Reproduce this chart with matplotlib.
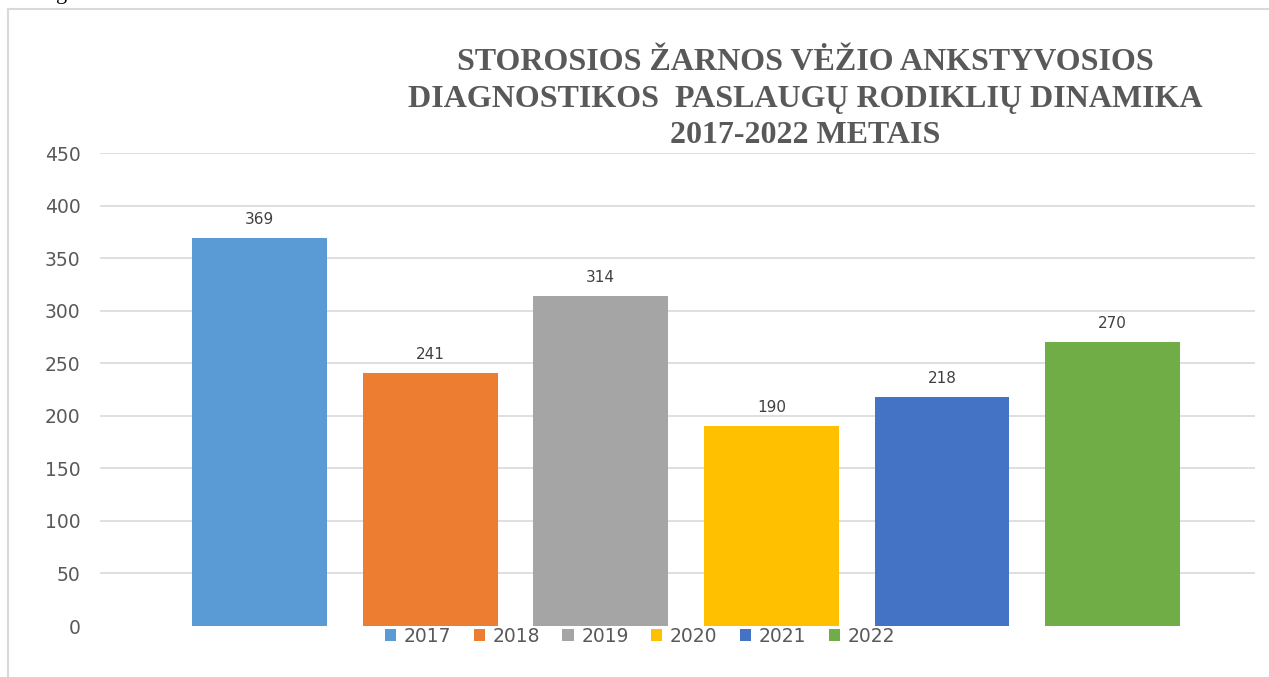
import matplotlib.pyplot as plt
from matplotlib.lines import Line2D
from matplotlib.patches import Patch

years = ["2017", "2018", "2019", "2020", "2021", "2022"]
values = [369, 241, 314, 190, 218, 270]
colors = ["#5B9BD5", "#ED7D31", "#A5A5A5", "#FFC000", "#4472C4", "#70AD47"]
yticks = [0, 50, 100, 150, 200, 250, 300, 350, 400, 450]

title = ("STOROSIOS ŽARNOS VĖŽIO ANKSTYVOSIOS\n"
         "DIAGNOSTIKOS  PASLAUGŲ RODIKLIŲ DINAMIKA\n"
         "2017-2022 METAIS")

W, H = 1269, 677
fig = plt.figure(figsize=(W / 100, H / 100), dpi=100)
fig.patch.set_facecolor("white")

# chart frame (left and top edges visible)
fig.add_artist(Line2D([8 / W, 8 / W], [0, 1 - 9 / H], color="#d9d9d9", lw=1.5))
fig.add_artist(Line2D([8 / W, 1], [1 - 9 / H, 1 - 9 / H], color="#d9d9d9", lw=1.5))
# clipped caption fragment at the very top
fig.text(62 / W, 1 + 1 / H, "g", fontsize=16, family="Liberation Serif",
         ha="center", va="baseline", color="black")

ax = fig.add_axes([100 / W, 1 - 626 / H, (1255 - 100) / W, (626 - 153) / H])
x = list(range(len(years)))
bars = ax.bar(x, values, width=0.79, color=colors, zorder=3)

ax.set_xlim(-0.935, 5.835)
ax.set_ylim(0, 450)
ax.set_yticks(yticks)
for t in yticks[1:]:
    ax.axhline(t, color="#d9d9d9", lw=1.2, zorder=1)
ax.set_xticks([])
for s in ax.spines.values():
    s.set_visible(False)
ax.tick_params(axis="y", length=0, pad=14, labelsize=13.5, labelcolor="#595959")

for b, v in zip(bars, values):
    ax.annotate(str(v), (b.get_x() + b.get_width() / 2, v), xytext=(0, 8),
                textcoords="offset points", ha="center", va="bottom",
                fontsize=11, color="#404040")

handles = [Patch(facecolor=c, edgecolor="none") for c in colors]
fig.legend(handles, years, loc="center", bbox_to_anchor=(640 / W, 1 - 636 / H),
           ncol=6, frameon=False, fontsize=13.5, labelcolor="#595959",
           handlelength=0.6, handleheight=0.6, handletextpad=0.4,
           columnspacing=1.2, borderaxespad=0)

fig.text(805 / W, 1 - 99 / H, title, ha="center", va="center",
         family="Liberation Serif", fontweight="bold", fontsize=23,
         color="#595959", linespacing=1.32)

fig.savefig("out.png", dpi=100)
